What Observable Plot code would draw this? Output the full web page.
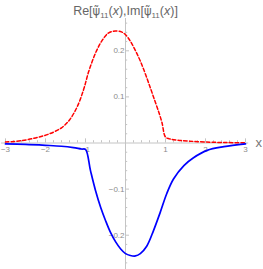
<!DOCTYPE html>
<html>
<head>
<meta charset="utf-8">
<script src="https://cdn.jsdelivr.net/npm/d3@7"></script>
<script src="https://cdn.jsdelivr.net/npm/@observablehq/plot@0.6"></script>
<style>
  html, body { margin: 0; padding: 0; background: #fff; }
  #chart svg { display: block; }
</style>
</head>
<body>
<div id="chart"></div>
<script>
// Real part (red dashed)
const reX = [-3, -2.6, -2.2, -1.9, -1.6, -1.4, -1.2, -1.04, -0.92, -0.75, -0.58, -0.42, -0.25, -0.1, 0, 0.12, 0.25, 0.37, 0.5, 0.62, 0.72, 0.82, 0.91, 1.0, 1.1, 1.3, 1.6, 2.0, 2.5, 3.0];
const reY = [0.002, 0.005, 0.012, 0.02, 0.033, 0.05, 0.08, 0.118, 0.155, 0.195, 0.223, 0.239, 0.243, 0.241, 0.235, 0.221, 0.2, 0.178, 0.149, 0.12, 0.095, 0.07, 0.045, 0.013, 0.009, 0.006, 0.004, 0.002, 0.001, 0.0005];
// Imaginary part (blue solid)
const imX = [-3, -2.5, -2, -1.6, -1.3, -1.1, -1.0, -0.875, -0.75, -0.62, -0.5, -0.375, -0.25, -0.12, 0.0, 0.12, 0.25, 0.37, 0.53, 0.7, 0.87, 1.03, 1.2, 1.46, 1.7, 2.04, 2.46, 3.0];
const imY = [-0.002, -0.003, -0.005, -0.007, -0.01, -0.013, -0.014, -0.06, -0.103, -0.14, -0.168, -0.194, -0.214, -0.23, -0.24, -0.244, -0.245, -0.24, -0.224, -0.19, -0.15, -0.11, -0.078, -0.049, -0.032, -0.016, -0.008, -0.002];

const xTickValues = [-3, -2, -1, 1, 2, 3];
const xTickLabels = ["\u22123", "\u22122", "\u22121", "1", "2", "3"];
const yTickValues = [-0.2, -0.1, 0.1, 0.2];
const yTickLabels = ["\u22120.2", "\u22120.1", "0.1", "0.2"];
const titleText = "Re[ψ̃11(x)],Im[ψ̃11(x)]";
const axisLabel = "x";

const re = reX.map((x, i) => ({x, y: reY[i]}));
const im = imX.map((x, i) => ({x, y: imY[i]}));
const xMinor = d3.range(-3, 3.0001, 0.2).map(v => +v.toFixed(2)).filter(v => !xTickValues.includes(v) && v !== 0);
const yMinor = d3.range(-0.26, 0.2601, 0.02).map(v => +v.toFixed(2)).filter(v => !yTickValues.map(t=>+t.toFixed(2)).includes(v) && v !== 0);
const xTicks = xTickValues.map((v, i) => ({v, label: xTickLabels[i]}));
const yTicks = yTickValues.map((v, i) => ({v, label: yTickLabels[i]}));

const axisColor = "#c4c4c4";
const labelColor = "#8c8c8c";

const chart = Plot.plot({
  width: 263,
  height: 269,
  margin: 0,
  style: {fontFamily: "Liberation Sans, Arial, sans-serif", background: "#fff"},
  x: {domain: [-3, 3], range: [5, 245], axis: null},
  y: {domain: [-0.2, 0.2], range: [234.7, 50.3], axis: null},
  marks: [
    Plot.ruleY([0], {x1: -3.1, x2: 3.08, stroke: axisColor, strokeWidth: 1}),
    Plot.ruleX([0], {y1: -0.275, y2: 0.27, stroke: axisColor, strokeWidth: 1}),
    Plot.ruleX(xTicks, {x: "v", y1: 0, y2: 0.009, stroke: axisColor}),
    Plot.ruleX(xMinor, {x: d => d, y1: 0, y2: 0.005, stroke: axisColor}),
    Plot.ruleY(yTicks, {y: "v", x1: 0, x2: 0.1, stroke: axisColor}),
    Plot.ruleY(yMinor, {y: d => d, x1: 0, x2: 0.055, stroke: axisColor}),
    Plot.text(xTicks, {x: "v", y: () => 0, text: "label", dy: 6, lineAnchor: "middle", fontSize: 8, fill: labelColor}),
    Plot.text(yTicks, {x: () => 0, y: "v", text: "label", dx: -1, textAnchor: "end", fontSize: 8, fill: labelColor}),
    Plot.line(re, {x: "x", y: "y", stroke: "#ff0000", strokeWidth: 1.5, strokeDasharray: "3.5,2.2", curve: "catmull-rom"}),
    Plot.line(im, {x: "x", y: "y", stroke: "#0000ff", strokeWidth: 1.7, curve: "catmull-rom"}),
    Plot.text([axisLabel], {x: () => 3.33, y: () => 0, text: d => d, fontSize: 13, fill: "#777", lineAnchor: "middle"}),
    Plot.text([titleText], {x: () => 0, y: () => 0.287, text: d => d, fontSize: 12.5, fill: "#666", lineAnchor: "middle", className: "ttl"})
  ]
});
document.getElementById("chart").appendChild(chart);

// Render subscripts (and a tilde-accented psi) in the title, as one text element
const t = d3.select(chart).select("g.ttl text");
if (!t.empty()) {
  t.text(null);
  const segs = [["Re[", 0], ["\u03C8\u0303", 3], ["11", 1], ["(", 0], ["x", 2], ["),Im[", 0], ["\u03C8\u0303", 3], ["11", 1], ["(", 0], ["x", 2], [")]", 0]];
  segs.forEach(([s, k], i) => {
    const ts = t.append("tspan").text(s);
    const prev = i > 0 ? segs[i-1][1] : 0;
    if (k === 3) ts.attr("font-family", "DejaVu Sans").attr("font-size", 11.5);
    if (k === 1) ts.attr("font-size", 8).attr("dy", 3);
    else if (prev === 1) ts.attr("dy", -3);
    if (k === 2) ts.attr("font-style", "italic");
  });
}
</script>
</body>
</html>
